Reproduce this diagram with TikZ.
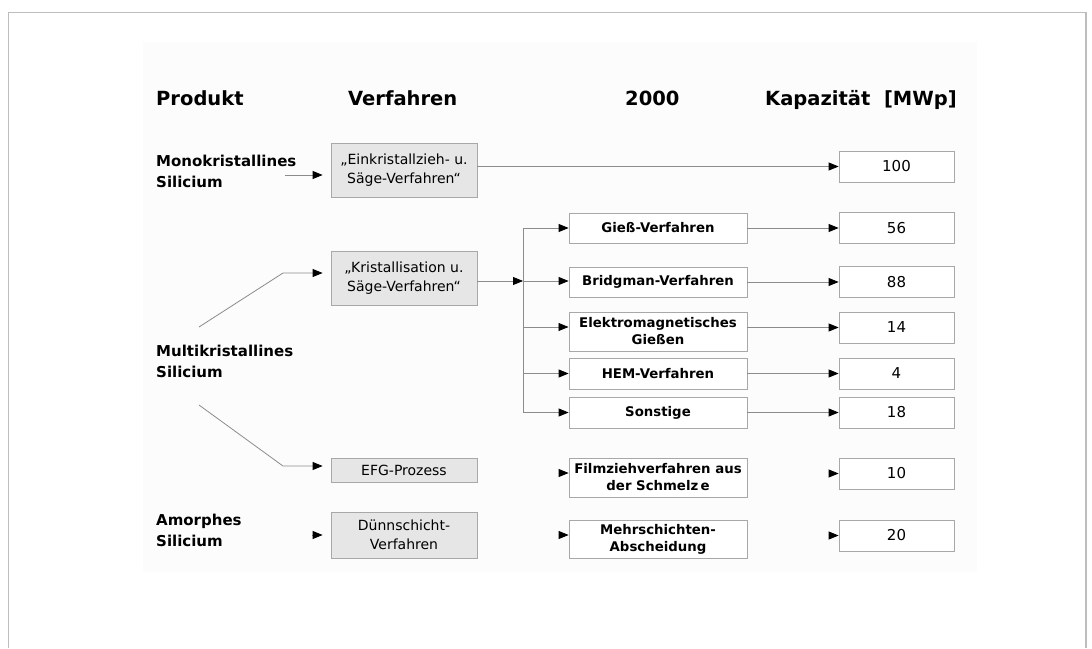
\documentclass[tikz,border=0pt]{standalone}
\usepackage{fontspec}
\setmainfont{DejaVu Sans}
\usetikzlibrary{arrows.meta,calc}
\definecolor{boxgray}{HTML}{E6E6E6}
\definecolor{boxline}{HTML}{A8A8A8}
\definecolor{linegray}{HTML}{8C8C8C}
\definecolor{framegray}{HTML}{BDBDBD}
\definecolor{panel}{HTML}{FCFCFC}
\begin{document}
\begin{tikzpicture}[x=1pt,y=-1pt,
  hdr/.style={font=\fontsize{19.5}{23}\selectfont\bfseries, anchor=base west, inner sep=0pt},
  lbl/.style={font=\fontsize{15}{21}\selectfont\bfseries, anchor=west, align=left, inner sep=0pt},
  procbox/.style={draw=boxline, fill=boxgray, line width=0.8pt, font=\fontsize{14}{19}\selectfont,
    align=center, minimum width=146pt, inner sep=0pt},
  midbox/.style={draw=boxline, fill=white, line width=0.8pt, font=\fontsize{13.3}{17}\selectfont\bfseries,
    align=center, minimum width=178pt, inner sep=0pt},
  valbox/.style={draw=boxline, fill=white, line width=0.8pt, font=\fontsize{15}{18}\selectfont,
    minimum width=115pt, minimum height=31pt, inner sep=0pt},
  link/.style={draw=linegray, line width=0.8pt, -{Triangle[length=10pt,width=8pt,color=black]}},
  gaplink/.style={link, shorten >=8pt}
]
\useasboundingbox (0,0) rectangle (1092,648);

% outer frame, open at the bottom, and the faint panel behind the chart
\draw[framegray, line width=1.2pt] (8.5,648) -- (8.5,12.5) -- (1086,12.5) -- (1086,648);
\fill[panel] (143,42) rectangle (977,572);

% column headings
\node[hdr] (hProdukt) at (156,105) {Produkt};
\node[hdr] (hVerfahren) at (348,105) {Verfahren};
\node[hdr] (hJahr) at (625,105) {2000};
\node[hdr] (hKap) at (765,105) {Kapazität\ \ [MWp]};

% products
\node[lbl] (mono) at (156,171) {Monokristallines\\Silicium};
\node[lbl] (multi) at (156,361) {Multikristallines\\Silicium};
\node[lbl] (amorph) at (156,530) {Amorphes\\Silicium};

% process boxes
\node[procbox, minimum height=54pt] (einkr) at (404,170) {„Einkristallzieh- u.\\Säge-Verfahren“};
\node[procbox, minimum height=54pt] (kristall) at (404,278) {„Kristallisation u.\\Säge-Verfahren“};
\node[procbox, minimum height=24pt] (efg) at (404,470) {EFG-Prozess};
\node[procbox, minimum height=46pt] (duenn) at (404,535) {Dünnschicht-\\Verfahren};

% technologies in 2000
\node[midbox, minimum height=30pt] (giess) at (658,228) {Gieß-Verfahren};
\node[midbox, minimum height=30pt] (bridg) at (658,282) {Bridgman-Verfahren};
\node[midbox, minimum height=39pt] (elektro) at (658,331.5) {Elektromagnetisches\\Gießen};
\node[midbox, minimum height=31pt] (hem) at (658,373.5) {HEM-Verfahren};
\node[midbox, minimum height=31pt] (sonst) at (658,412.5) {Sonstige};
\node[midbox, minimum height=39pt] (film) at (658,477.5) {Filmziehverfahren aus\\der Schmelz\,e};
\node[midbox, minimum height=38pt] (mehr) at (658,539) {Mehrschichten-\\Abscheidung};

% capacities
\node[valbox] (v100) at (896.5,166.5) {100};
\node[valbox] (v56) at (896.5,228) {56};
\node[valbox] (v88) at (896.5,282) {88};
\node[valbox] (v14) at (896.5,327.5) {14};
\node[valbox] (v4) at (896.5,373.5) {4};
\node[valbox] (v18) at (896.5,412.5) {18};
\node[valbox] (v10) at (896.5,473.5) {10};
\node[valbox] (v20) at (896.5,535.5) {20};

% free ends and bends of the connectors
\coordinate (monoStart) at (285,175);
\coordinate (multiUp) at (199,327);
\coordinate (multiUpBend) at (283,273);
\coordinate (multiDown) at (199,405);
\coordinate (multiDownBend) at (283,466);
\coordinate (amorphStart) at (312,535);
\coordinate (junction) at (523,281);
\coordinate (busTop) at (523,228);
\coordinate (busBottom) at (523,412.5);

% product -> process
\draw[gaplink] (monoStart) -- (monoStart -| einkr.west);
\draw[gaplink] (multiUp) -- (multiUpBend) -- (multiUpBend -| kristall.west);
\draw[gaplink] (multiDown) -- (multiDownBend) -- (multiDownBend -| efg.west);
\draw[gaplink] (amorphStart) -- (amorphStart -| duenn.west);

% monocrystalline straight to its capacity
\draw[link] (einkr.east |- v100) -- (v100.west);

% multicrystalline distribution
\draw[link] (kristall.east |- junction) -- (junction);
\draw[draw=linegray, line width=0.8pt] (busTop) -- (busBottom);
\draw[link] (busTop) -- (giess.west);
\draw[link] (junction) -- (junction -| bridg.west);
\draw[link] (elektro.west -| junction) ++(0,-4.5) -- ++(45.5,0);
\draw[link] (busTop |- hem) -- (hem.west);
\draw[link] (busBottom) -- (sonst.west);

% technology -> capacity
\draw[link] (giess.east) -- (v56.west);
\draw[link] (bridg.east) -- (v88.west);
\draw[link] (elektro.east |- v14) -- (v14.west);
\draw[link] (hem.east) -- (v4.west);
\draw[link] (sonst.east) -- (v18.west);

% arrowheads without lines
\draw[link] ($(film.west)+(-10,-4.5)$) -- ++(10,0);
\draw[link] ($(mehr.west)+(-10,-4)$) -- ++(10,0);
\draw[link] ($(v10.west)+(-10,0)$) -- (v10.west);
\draw[link] ($(v20.west)+(-10,0)$) -- (v20.west);
\end{tikzpicture}
\end{document}
